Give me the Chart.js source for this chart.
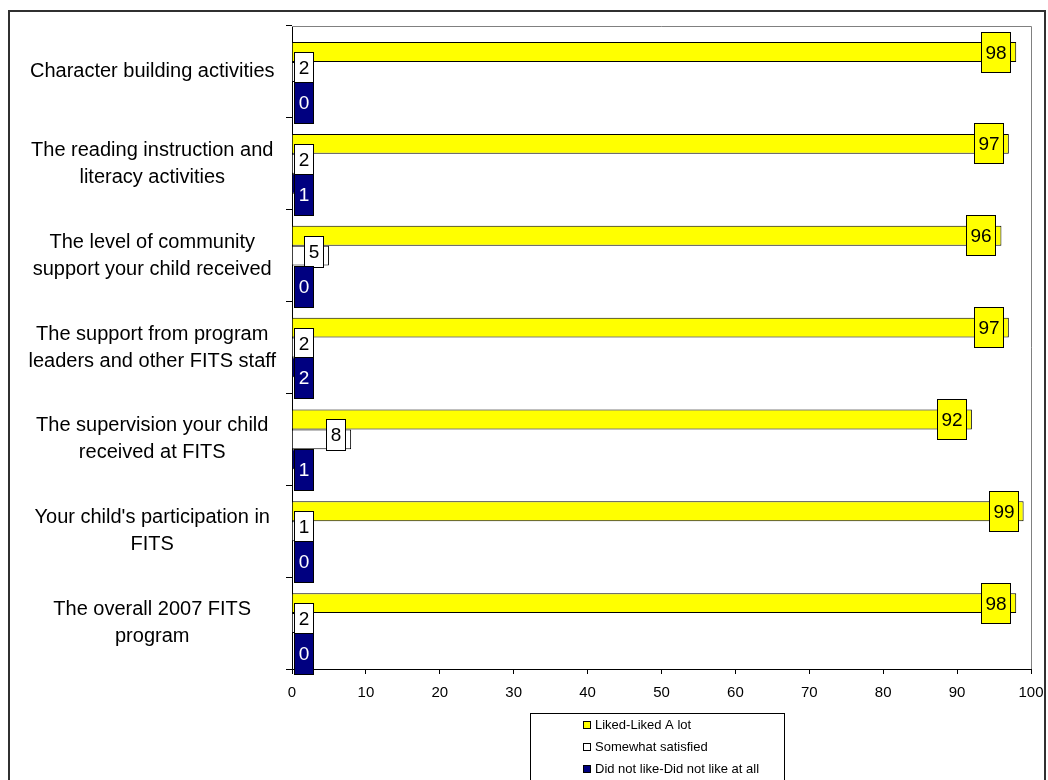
<!DOCTYPE html>
<html>
<head>
<meta charset="utf-8">
<title>FITS 2007 parent satisfaction</title>
<script src="https://cdn.jsdelivr.net/npm/chart.js@4.4.1/dist/chart.umd.min.js"></script>
<style>
  html, body { margin: 0; padding: 0; background: #ffffff; }
  #wrap { position: relative; width: 1048px; height: 780px; }
</style>
</head>
<body>
<div id="wrap"><canvas id="chart" width="1048" height="780"></canvas></div>
<script>
// Survey items (y categories)
const categories = [
  'Character building activities',
  ['The reading instruction and', 'literacy activities'],
  ['The level of community', 'support your child received'],
  ['The support from program', 'leaders and other FITS staff'],
  ['The supervision your child', 'received at FITS'],
  ["Your child's participation in", 'FITS'],
  ['The overall 2007 FITS', 'program']
];

// Percent of responses per item
const likedValues     = [98, 97, 96, 97, 92, 99, 98];
const somewhatValues  = [2, 2, 5, 2, 8, 1, 2];
const dislikedValues  = [0, 1, 0, 2, 1, 0, 0];

const seriesNames = ['Liked-Liked A lot', 'Somewhat satisfied', 'Did not like-Did not like at all'];

// Value axis ticks
const xTickMin = 0, xTickMax = 100, xTickStep = 10;

const FONT = '"Liberation Sans", Arial, Helvetica, sans-serif';
const fills = ['#FFFF00', '#FFFFFF', '#000080'];
const textColors = ['#000000', '#000000', '#FFFFFF'];
// Label box height and vertical shift per series
const boxStyle = [
  { h: 41, dy: 0 },
  { h: 32, dy: -4 },
  { h: 42, dy: 11 }
];

// Value labels drawn as filled boxes near the end of each bar
const boxLabels = {
  id: 'boxLabels',
  afterDatasetsDraw(chart) {
    const ctx = chart.ctx;
    const axisX = chart.scales.x.getPixelForValue(0);
    ctx.save();
    ctx.font = '19px ' + FONT;
    ctx.textAlign = 'center';
    ctx.textBaseline = 'middle';
    chart.data.datasets.forEach((ds, i) => {
      const meta = chart.getDatasetMeta(i);
      const st = boxStyle[i];
      meta.data.forEach((bar, j) => {
        const text = String(ds.data[j]);
        const w = Math.round(ctx.measureText(text).width + 9);
        const right = Math.round(Math.max(bar.x - 5, axisX + w + 2));
        const left = right - w;
        const top = Math.round(bar.y + st.dy - st.h / 2);
        ctx.fillStyle = fills[i];
        ctx.fillRect(left, top, w, st.h);
        ctx.lineWidth = 1;
        ctx.strokeStyle = '#000000';
        ctx.strokeRect(left + 0.5, top + 0.5, w - 1, st.h - 1);
        ctx.fillStyle = textColors[i];
        ctx.fillText(text, left + w / 2, top + st.h / 2 + 1);
      });
    });
    ctx.restore();
  }
};

// Plot-area outline (top and right), outer frame and boxed legend
const frame = {
  id: 'frame',
  beforeDraw(chart) {
    const ctx = chart.ctx;
    ctx.save();
    ctx.fillStyle = '#ffffff';
    ctx.fillRect(0, 0, chart.width, chart.height);
    ctx.restore();
  },
  beforeDatasetsDraw(chart) {
    const { ctx, chartArea: a } = chart;
    ctx.save();
    ctx.strokeStyle = '#808080';
    ctx.lineWidth = 1;
    ctx.beginPath();
    ctx.moveTo(a.left, Math.round(a.top) + 0.5);
    ctx.lineTo(Math.round(a.right) + 0.5, Math.round(a.top) + 0.5);
    ctx.lineTo(Math.round(a.right) + 0.5, a.bottom);
    ctx.stroke();
    ctx.restore();
  },
  afterDraw(chart) {
    const { ctx, chartArea: a } = chart;
    ctx.save();
    // outer frame
    ctx.strokeStyle = '#303030';
    ctx.lineWidth = 2;
    ctx.strokeRect(9, 11, 1036, 820);

    // legend
    const cx = (a.left + a.right) / 2;
    const lx = Math.round(cx - 132) + 0.5;
    const ly = Math.round(a.bottom + 44) + 0.5;
    ctx.lineWidth = 1;
    ctx.strokeStyle = '#000000';
    ctx.fillStyle = '#ffffff';
    ctx.fillRect(lx, ly, 254, 120);
    ctx.strokeRect(lx, ly, 254, 120);
    ctx.font = '13px ' + FONT;
    ctx.textAlign = 'left';
    ctx.textBaseline = 'middle';
    chart.data.datasets.forEach((ds, i) => {
      const rowY = Math.round(ly + 11 + i * 22);
      const sx = Math.round(lx + 52);
      ctx.fillStyle = fills[i];
      ctx.fillRect(sx, rowY - 4, 8, 8);
      ctx.strokeStyle = '#000000';
      ctx.strokeRect(sx + 0.5, rowY - 3.5, 7, 7);
      ctx.fillStyle = '#000000';
      ctx.fillText(ds.label, sx + 12, rowY);
    });
    ctx.restore();
  }
};

const makeSet = (i, values) => ({
  label: seriesNames[i],
  data: values,
  backgroundColor: fills[i],
  borderColor: '#000000',
  borderWidth: 1,
  borderSkipped: 'start',
  categoryPercentage: 0.65,
  barPercentage: 1.0
});

new Chart(document.getElementById('chart'), {
  type: 'bar',
  data: {
    labels: categories,
    datasets: [
      makeSet(0, likedValues),
      makeSet(1, somewhatValues),
      makeSet(2, dislikedValues)
    ]
  },
  options: {
    indexAxis: 'y',
    responsive: false,
    animation: false,
    layout: { padding: { left: 0, top: 26, right: 17, bottom: 71 } },
    plugins: {
      legend: { display: false },
      tooltip: { enabled: false }
    },
    scales: {
      x: {
        min: xTickMin,
        max: xTickMax,
        afterFit: (s) => { s.height = 40; s.paddingLeft = 0; s.paddingRight = 0; },
        ticks: {
          stepSize: xTickStep,
          color: '#000000',
          padding: 10,
          font: { family: FONT, size: 15 }
        },
        grid: {
          drawOnChartArea: false,
          drawTicks: true,
          tickLength: 5,
          tickColor: '#000000'
        },
        border: { display: true, color: '#000000', width: 1 }
      },
      y: {
        afterFit: (s) => { s.width = 292; s.paddingTop = 0; s.paddingBottom = 0; },
        ticks: {
          color: '#000000',
          crossAlign: 'center',
          padding: 10,
          font: { family: FONT, size: 20, lineHeight: 1.35 }
        },
        grid: {
          offset: true,
          drawOnChartArea: false,
          drawTicks: true,
          tickLength: 6,
          tickColor: '#000000'
        },
        border: { display: true, color: '#000000', width: 1 }
      }
    }
  },
  plugins: [frame, boxLabels]
});
</script>
</body>
</html>
